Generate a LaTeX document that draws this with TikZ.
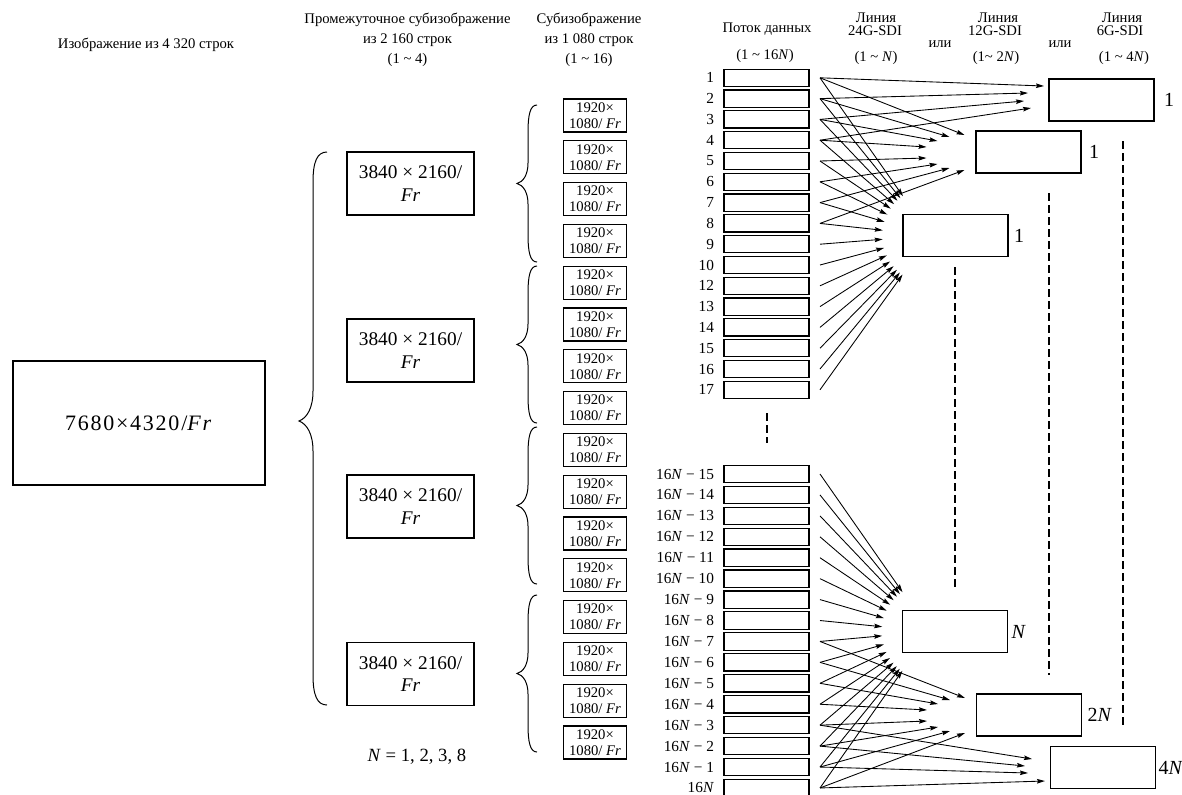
\documentclass[tikz,border=0pt]{standalone}
\usepackage{fontspec}
\setmainfont{Liberation Serif}
\usetikzlibrary{arrows.meta,calc}
\begin{document}
\begin{tikzpicture}[x=0.75pt,y=-0.75pt,
  every node/.style={inner sep=0pt,outer sep=0pt},
  bx/.style={draw,line width=0.9pt},
  hd/.style={font=\fontsize{11}{12}\selectfont},
  lbl/.style={font=\fontsize{11.5}{12}\selectfont,anchor=east},
  dlbl/.style={font=\fontsize{15}{16}\selectfont,anchor=west},
  sbox/.style={bx,minimum width=47.25pt,minimum height=24.75pt,align=center,font=\fontsize{11}{12}\selectfont},
  mbox/.style={bx,minimum width=95.25pt,minimum height=47.25pt,align=center,font=\fontsize{14.5}{17}\selectfont},
  dbox/.style={bx,minimum width=63.75pt,minimum height=13pt},
  obox/.style={bx,minimum width=78.75pt,minimum height=31.5pt},
  arr/.style={line width=0.65pt,-{Stealth[length=6pt,width=3.4pt,inset=0.8pt]}},
  dsh/.style={line width=0.9pt,dash pattern=on 6pt off 3pt},
  brc/.style={line width=0.75pt}
]
\useasboundingbox (0,0) rectangle (1182,794);

% headers
\node[hd] (h1) at (146,45) {Изображение из 4 320 строк};
\node[hd] (h2a) at (407.5,20) {Промежуточное субизображение};
\node[hd] (h2b) at (407.5,40) {из 2 160 строк};
\node[hd] (h2c) at (407.5,60) {(1 \textasciitilde{} 4)};
\node[hd] (h3a) at (589,20) {Субизображение};
\node[hd] (h3b) at (589,40) {из 1 080 строк};
\node[hd] (h3c) at (589,60) {(1 \textasciitilde{} 16)};
\node[hd] (h4a) at (767,29) {Поток данных};
\node[hd] (h4b) at (765,56) {(1 \textasciitilde{} 16\textit{N})};
\node[hd] (h5a) at (876,17.5) {Линия};
\node[hd] (h5b) at (875,31) {24G-SDI};
\node[hd] (h5c) at (876,58) {(1 \textasciitilde{} \textit{N})};
\node[hd] (or1) at (940,44) {или};
\node[hd] (h6a) at (998,17.5) {Линия};
\node[hd] (h6b) at (995,31) {12G-SDI};
\node[hd] (h6c) at (996,58) {(1\textasciitilde{} 2\textit{N})};
\node[hd] (or2) at (1060,44) {или};
\node[hd] (h7a) at (1122,17.5) {Линия};
\node[hd] (h7b) at (1120,31) {6G-SDI};
\node[hd] (h7c) at (1124,58) {(1 \textasciitilde{} 4\textit{N})};

% big image
\node[bx,minimum width=189pt,minimum height=93pt,font=\fontsize{16.5}{18}\selectfont\addfontfeature{LetterSpace=8}] (img) at (139,423) {7680×4320/\textit{Fr}};

% big brace
\draw[brc] (327,152) .. controls (317,152) and (313,162) .. (313,182)
  -- (313,391) .. controls (313,408) and (307,418) .. (299,421)
  .. controls (307,424) and (313,434) .. (313,451)
  -- (313,675) .. controls (313,695) and (317,705) .. (327,705);

% intermediate sub-images
\node[mbox] (m1) at (410.5,183.5) {3840 × 2160/\\\textit{Fr}};
\node[mbox] (m2) at (410.5,350.5) {3840 × 2160/\\\textit{Fr}};
\node[mbox] (m3) at (410.5,506.5) {3840 × 2160/\\\textit{Fr}};
\node[mbox] (m4) at (410.5,674) {3840 × 2160/\\\textit{Fr}};
\node[font=\fontsize{14}{16}\selectfont] (nn) at (417,757) {\textit{N} = 1, 2, 3, 8};

% small braces
\foreach \t in {105,266,427,595}{
  \draw[brc] (537,\t) .. controls (530,\t) and (528,{\t+10}) .. (528,{\t+28})
    -- (528,{\t+58}) .. controls (528,{\t+70}) and (523,{\t+77}) .. (517,{\t+78.5})
    .. controls (523,{\t+80}) and (528,{\t+87}) .. (528,{\t+99})
    -- (528,{\t+129}) .. controls (528,{\t+147}) and (530,{\t+157}) .. (537,{\t+157});
}

% sub-images
\foreach \i in {0,...,15}{
  \node[sbox] (p\i) at (595,{115.5+41.8*\i}) {1920×\\1080/ \textit{Fr}};
}

% data streams, top group
\foreach \n [count=\i] in {1,2,3,4,5,6,7,8,9,10,12,13,14,15,16,17}{
  \node[dbox] (s\i) at (766.5,{57+20.8*\i}) {};
  \node[lbl] (ls\i) at (714,{57+20.8*\i}) {\n};
  \coordinate (as\i) at ($(s\i.east)+(11,0)$);
}
% data streams, bottom group
\foreach \n [count=\i] in {15,14,13,12,11,10,9,8,7,6,5,4,3,2,1}{
  \node[dbox] (b\i) at (766.5,{453.07+20.93*\i}) {};
  \node[lbl] (lb\i) at (714,{453.07+20.93*\i}) {16\textit{N} − \n};
  \coordinate (ab\i) at ($(b\i.east)+(11,0)$);
}
\node[dbox] (b16) at (766.5,{453.07+20.93*16}) {};
\node[lbl] (lb16) at (714,{453.07+20.93*16}) {16\textit{N}};
\coordinate (ab16) at ($(b16.east)+(11,0)$);

\draw[dsh] (767,413) -- (767,443);

% outputs
\node[obox] (t24) at (955.5,235.5) {};
\node[obox] (t12) at (1028.5,152) {};
\node[obox] (t6) at (1101.5,100) {};
\node[obox] (u24) at (955,631.5) {};
\node[obox] (u12) at (1029,715) {};
\node[obox] (u6) at (1103,767.5) {};
\node[dlbl] (lt24) at ($(t24.east)+(6,0)$) {1};
\node[dlbl] (lt12) at ($(t12.east)+(8,0)$) {1};
\node[dlbl] (lt6) at ($(t6.east)+(10,0)$) {1};
\node[dlbl] (lu24) at ($(u24.east)+(4,0)$) {\textit{N}};
\node[dlbl] (lu12) at ($(u12.east)+(6,0)$) {2\textit{N}};
\node[dlbl] (lu6) at ($(u6.east)+(3,0)$) {4\textit{N}};

\draw[dsh] (955,267) -- (955,590);
\draw[dsh] (1049,193) -- (1049,675);
\draw[dsh] (1123,141) -- (1123,727);

% arrows top
\coordinate (Ft) at ($(t24.center)+(-25,0)$);
\foreach \i in {1,...,16}{
  \draw[arr] (as\i) -- ($(Ft)!36pt!(as\i)$);
}
\foreach \i/\dx/\dy in {1/-64/-17,2/-79/-15,3/-91/-11,4/-102/-5,5/-102/6,6/-91/12,7/-79/16,8/-64/18}{
  \draw[arr] (as\i) -- ($(t12.center)+(\dx,\dy)$);
}
\foreach \i/\dx/\dy in {1/-57.5/-14,2/-73.5/-7,3/-77.5/1,4/-70.5/8}{
  \draw[arr] (as\i) -- ($(t6.center)+(\dx,\dy)$);
}
% arrows bottom
\coordinate (Fb) at ($(u24.center)+(-25,0)$);
\foreach \i in {1,...,16}{
  \draw[arr] (ab\i) -- ($(Fb)!36pt!(ab\i)$);
}
\foreach \i/\dx/\dy in {9/-64/-17,10/-79/-15,11/-91/-11,12/-102/-5,13/-102/6,14/-91/12,15/-79/16,16/-64/18}{
  \draw[arr] (ab\i) -- ($(u12.center)+(\dx,\dy)$);
}
\foreach \i/\dx/\dy in {13/-71/-8.5,14/-78/-1.5,15/-75/5.5,16/-58/13.5}{
  \draw[arr] (ab\i) -- ($(u6.center)+(\dx,\dy)$);
}
\end{tikzpicture}
\end{document}
